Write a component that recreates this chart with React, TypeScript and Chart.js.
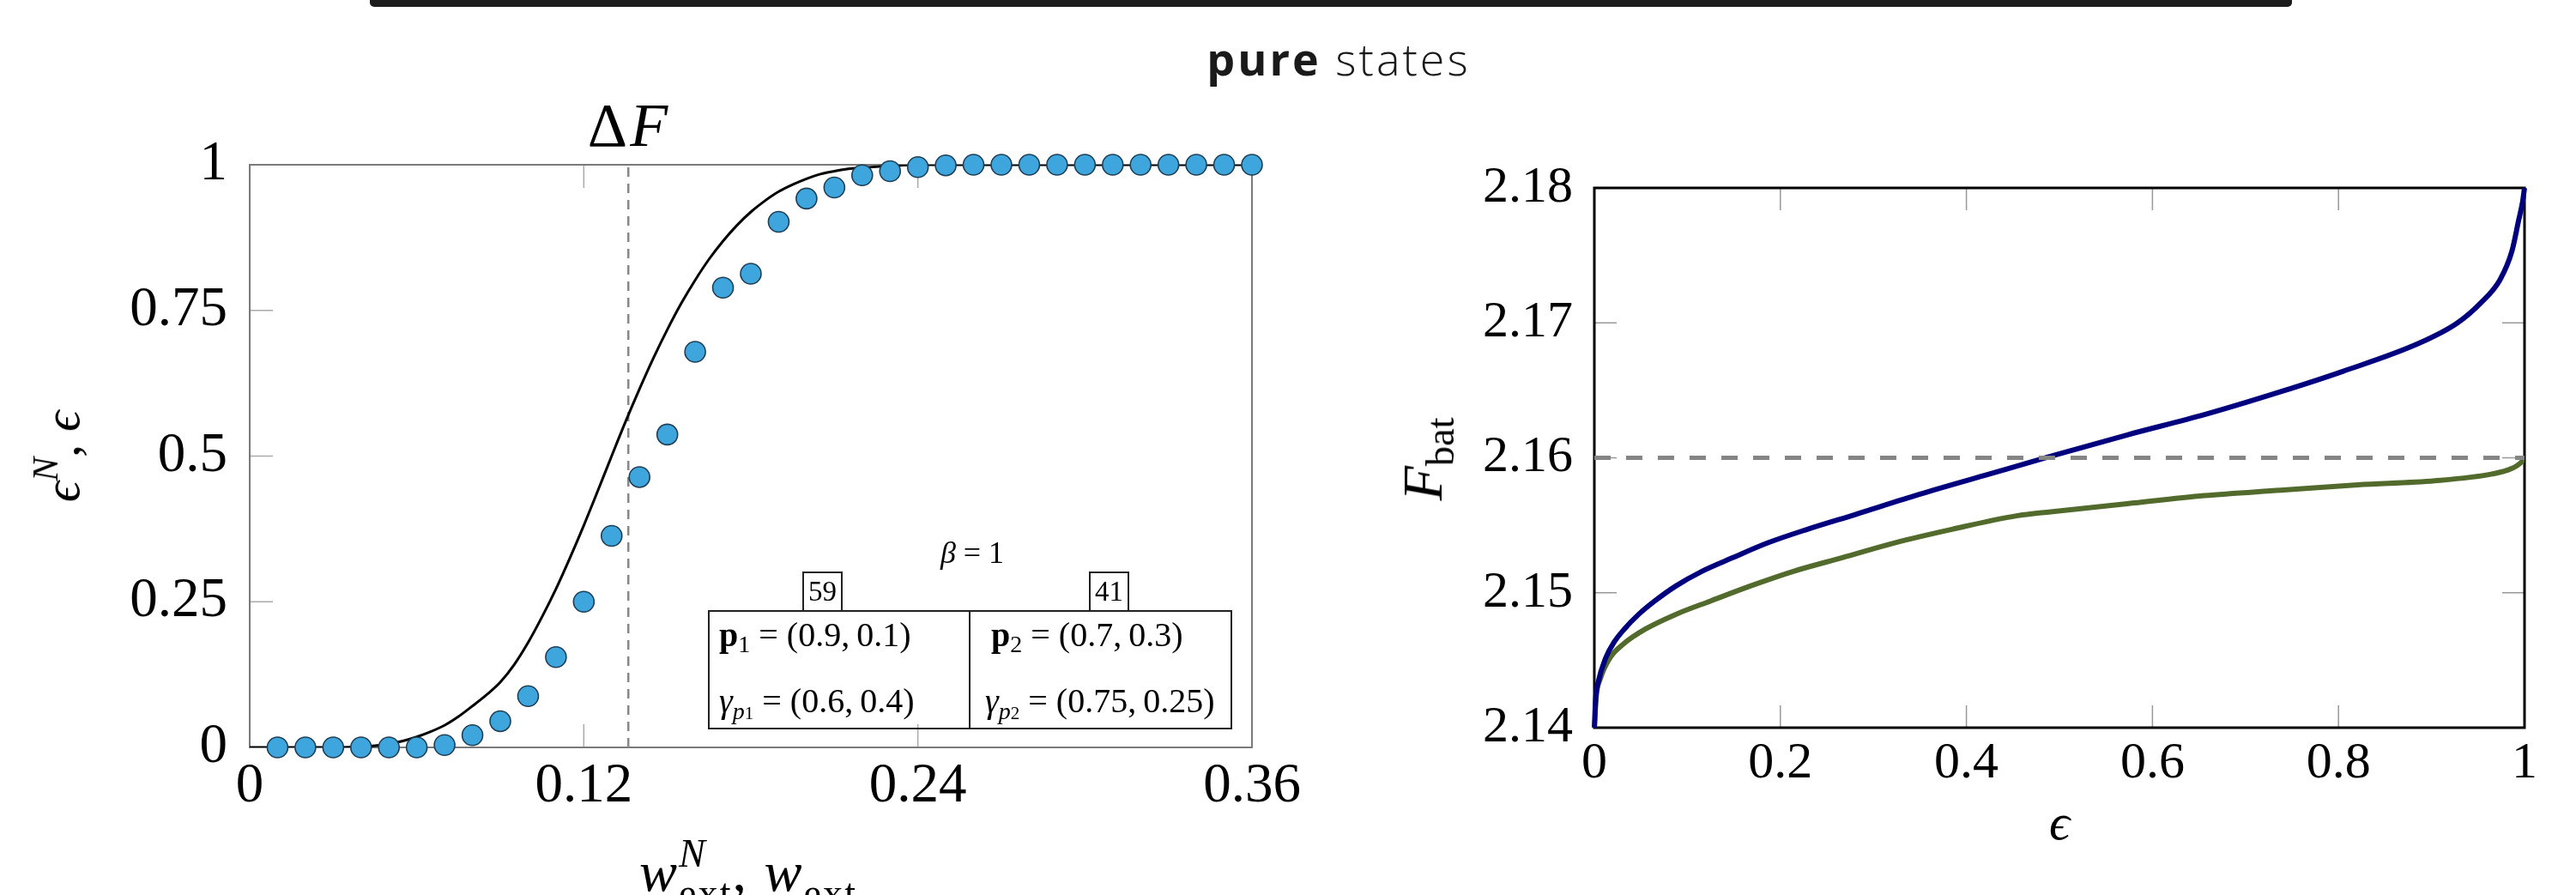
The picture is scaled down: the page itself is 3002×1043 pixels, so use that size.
import React, { useEffect, useRef } from 'react';
import { Chart, registerables } from 'chart.js';

Chart.register(...registerables);

const SERIF = "'Liberation Serif', 'DejaVu Serif', 'Times New Roman', serif";
const SANS = "'Open Sans', 'Noto Sans', 'DejaVu Sans', sans-serif";

// ---------- Left panel data ----------
const dotX = [0.01, 0.02, 0.03, 0.04, 0.05, 0.06, 0.07, 0.08, 0.09, 0.10, 0.11, 0.12, 0.13, 0.14, 0.15, 0.16, 0.17, 0.18,
  0.19, 0.20, 0.21, 0.22, 0.23, 0.24, 0.25, 0.26, 0.27, 0.28, 0.29, 0.30, 0.31, 0.32, 0.33, 0.34, 0.35, 0.36];
const dotY = [0, 0, 0, 0, 0, 0, 0.004, 0.021, 0.045, 0.088, 0.155, 0.250, 0.363, 0.464, 0.537, 0.679, 0.789, 0.813,
  0.902, 0.942, 0.961, 0.982, 0.989, 0.996, 0.999, 1, 1, 1, 1, 1, 1, 1, 1, 1, 1, 1];

const curveX = [0, 0.02, 0.03, 0.04, 0.045, 0.05, 0.055, 0.06, 0.065, 0.07, 0.075, 0.08, 0.085, 0.09, 0.095, 0.10, 0.105,
  0.11, 0.115, 0.12, 0.125, 0.13, 0.135, 0.14, 0.145, 0.15, 0.155, 0.16, 0.165, 0.17, 0.175, 0.18, 0.185, 0.19, 0.195,
  0.20, 0.205, 0.21, 0.215, 0.22, 0.23, 0.24, 0.30, 0.36];
const curveY = [0, 0, 0, 0.001, 0.003, 0.006, 0.011, 0.018, 0.027, 0.038, 0.053, 0.071, 0.090, 0.112, 0.142, 0.180, 0.224,
  0.272, 0.325, 0.381, 0.440, 0.500, 0.559, 0.615, 0.668, 0.717, 0.762, 0.802, 0.838, 0.869, 0.896, 0.919, 0.938, 0.954, 0.966,
  0.976, 0.984, 0.989, 0.993, 0.995, 0.998, 1, 1, 1];

const deltaFX = [0.136, 0.136];
const deltaFY = [0, 1];

const leftXTicks = [0, 0.12, 0.24, 0.36];
const leftXTickLabels = ['0', '0.12', '0.24', '0.36'];
const leftYTicks = [0, 0.25, 0.5, 0.75, 1];
const leftYTickLabels = ['0', '0.25', '0.5', '0.75', '1'];

// ---------- Right panel data ----------
const blueX = [0, 0.0015, 0.0039, 0.0124, 0.0209, 0.0322, 0.0477, 0.0652, 0.0877, 0.116, 0.149, 0.1866, 0.229, 0.2806, 0.35,
  0.42, 0.49, 0.573, 0.656, 0.738, 0.8045, 0.887, 0.928, 0.9533, 0.9737, 0.9864, 0.9937, 0.998, 1.0];
const blueY = [2.1400, 2.1422, 2.1433, 2.1452, 2.1463, 2.1473, 2.1484, 2.1494, 2.1505, 2.1516, 2.1526, 2.1537, 2.1547, 2.1558,
  2.1573, 2.1587, 2.1601, 2.1617, 2.1632, 2.1649, 2.1664, 2.1685, 2.1700, 2.1715, 2.1732, 2.1753, 2.1776, 2.1790, 2.1800];

const greenX = [0, 0.002, 0.0063, 0.0171, 0.0312, 0.0547, 0.0877, 0.1254, 0.1678, 0.2147, 0.2666, 0.323, 0.3844, 0.454,
  0.4905, 0.573, 0.656, 0.738, 0.821, 0.9035, 0.965, 0.986, 0.997, 1.0];
const greenY = [2.1400, 2.1423, 2.1436, 2.1452, 2.1462, 2.1473, 2.1484, 2.1494, 2.1505, 2.1516, 2.1526, 2.1537, 2.1547, 2.1557,
  2.1560, 2.1566, 2.1572, 2.1576, 2.1580, 2.1583, 2.1588, 2.1592, 2.1597, 2.1600];

const refX = [0, 1];
const refY = [2.16, 2.16];

const rightXTicks = [0, 0.2, 0.4, 0.6, 0.8, 1];
const rightXTickLabels = ['0', '0.2', '0.4', '0.6', '0.8', '1'];
const rightYTicks = [2.14, 2.15, 2.16, 2.17, 2.18];
const rightYTickLabels = ['2.14', '2.15', '2.16', '2.17', '2.18'];

const pts = (xs: number[], ys: number[]) => xs.map((x, i) => ({ x, y: ys[i] }));

type FrameCfg = {
  frameColor: string; frameWidth: number; tickColor: string; tickWidth: number; tickLen: number;
  xInner: number[]; yInner: number[]; top: boolean; bottom: boolean; left: boolean; right: boolean;
};

function makeFramePlugin(cfg: FrameCfg) {
  return {
    id: 'frameTicks',
    beforeDatasetsDraw(chart: any) {
      const { ctx, chartArea: a, scales } = chart;
      const xs = scales.x, ys = scales.y;
      ctx.save();
      ctx.strokeStyle = cfg.tickColor;
      ctx.lineWidth = cfg.tickWidth;
      ctx.beginPath();
      for (const v of cfg.xInner) {
        const px = xs.getPixelForValue(v);
        if (cfg.top) { ctx.moveTo(px, a.top); ctx.lineTo(px, a.top + cfg.tickLen); }
        if (cfg.bottom) { ctx.moveTo(px, a.bottom); ctx.lineTo(px, a.bottom - cfg.tickLen); }
      }
      for (const v of cfg.yInner) {
        const py = ys.getPixelForValue(v);
        if (cfg.left) { ctx.moveTo(a.left, py); ctx.lineTo(a.left + cfg.tickLen, py); }
        if (cfg.right) { ctx.moveTo(a.right, py); ctx.lineTo(a.right - cfg.tickLen, py); }
      }
      ctx.stroke();
      ctx.strokeStyle = cfg.frameColor;
      ctx.lineWidth = cfg.frameWidth;
      ctx.strokeRect(a.left, a.top, a.right - a.left, a.bottom - a.top);
      ctx.restore();
    },
  };
}

function axis(min: number, max: number, ticks: number[], labels: string[], size: number, padding: number,
  fit: (s: any) => void) {
  return {
    type: 'linear',
    min, max,
    afterBuildTicks: (s: any) => { s.ticks = ticks.map((v) => ({ value: v })); },
    afterFit: fit,
    ticks: {
      callback: (_v: any, i: number) => labels[i],
      font: { family: SERIF, size, lineHeight: 1 },
      color: '#000',
      padding,
      maxRotation: 0,
      minRotation: 0,
      autoSkip: false,
    },
    grid: { display: false, drawTicks: false },
    border: { display: false },
  };
}

function leftConfig(): any {
  return {
    type: 'scatter',
    data: {
      datasets: [
        {
          data: pts(dotX, dotY), showLine: false, pointRadius: 12, pointBorderWidth: 1.6,
          pointBackgroundColor: '#3fa6dd', pointBorderColor: '#1e3f56', clip: false,
        },
        {
          data: pts(curveX, curveY), showLine: true, pointRadius: 0, borderColor: '#000', borderWidth: 3,
          cubicInterpolationMode: 'monotone',
        },
        {
          data: pts(deltaFX, deltaFY), showLine: true, pointRadius: 0, borderColor: '#888', borderWidth: 2.5,
          borderDash: [11, 8],
        },
      ],
    },
    options: {
      responsive: false, animation: false, events: [],
      layout: { padding: { left: 0, top: 192, right: 81, bottom: 0 } },
      plugins: { legend: { display: false }, tooltip: { enabled: false } },
      scales: {
        x: axis(0, 0.36, leftXTicks, leftXTickLabels, 65, 13, (s: any) => { s.height = 172; }),
        y: axis(0, 1, leftYTicks, leftYTickLabels, 65, 26, (s: any) => { s.width = 291; }),
      },
    },
    plugins: [makeFramePlugin({
      frameColor: '#7a7a7a', frameWidth: 2, tickColor: '#aaa', tickWidth: 1.5, tickLen: 27,
      xInner: [0.12, 0.24], yInner: [0.25, 0.5, 0.75], top: true, bottom: true, left: true, right: false,
    })],
  };
}

function rightConfig(): any {
  return {
    type: 'scatter',
    data: {
      datasets: [
        {
          data: pts(refX, refY), showLine: true, pointRadius: 0, borderColor: '#858585', borderWidth: 5,
          borderDash: [19, 18],
        },
        {
          data: pts(blueX, blueY), showLine: true, pointRadius: 0, borderColor: '#00007f', borderWidth: 6,
          cubicInterpolationMode: 'monotone', clip: false,
        },
        {
          data: pts(greenX, greenY), showLine: true, pointRadius: 0, borderColor: '#526b2c', borderWidth: 6,
          cubicInterpolationMode: 'monotone',
        },
      ],
    },
    options: {
      responsive: false, animation: false, events: [],
      layout: { padding: { left: 0, top: 219, right: 60, bottom: 0 } },
      plugins: { legend: { display: false }, tooltip: { enabled: false } },
      scales: {
        x: axis(0, 1, rightXTicks, rightXTickLabels, 60, 12.5, (s: any) => { s.height = 195; }),
        y: axis(2.14, 2.18, rightYTicks, rightYTickLabels, 60, 25, (s: any) => { s.width = 318; }),
      },
    },
    plugins: [makeFramePlugin({
      frameColor: '#000', frameWidth: 3, tickColor: '#999', tickWidth: 1.5, tickLen: 26,
      xInner: [0.2, 0.4, 0.6, 0.8], yInner: [2.15, 2.16, 2.17], top: true, bottom: true, left: true, right: true,
    })],
  };
}

const Sup = ({ children, italic = false }: { children: any; italic?: boolean }) => (
  <span style={{ fontSize: '0.7em', lineHeight: 0, verticalAlign: '0.6em', fontStyle: italic ? 'italic' : 'normal' }}>{children}</span>
);
const SupZero = ({ children, italic = false }: { children: any; italic?: boolean }) => (
  <span style={{
    display: 'inline-block', width: 0, whiteSpace: 'nowrap', fontSize: '0.7em', lineHeight: 0,
    verticalAlign: '0.6em', fontStyle: italic ? 'italic' : 'normal',
  }}>{children}</span>
);
const Sub = ({ children, italic = false, shift = '-0.35em' }: { children: any; italic?: boolean; shift?: string }) => (
  <span style={{ fontSize: '0.7em', lineHeight: 0, verticalAlign: shift, fontStyle: italic ? 'italic' : 'normal' }}>{children}</span>
);
const I = ({ children }: { children: any }) => <span style={{ fontStyle: 'italic' }}>{children}</span>;

const abs = (left: number, top: number, size: number, extra: any = {}): any => ({
  position: 'absolute', left, top, fontSize: size, lineHeight: `${size}px`, fontFamily: SERIF,
  whiteSpace: 'nowrap', color: '#000', ...extra,
});

export default function App() {
  const leftRef = useRef<HTMLCanvasElement>(null);
  const rightRef = useRef<HTMLCanvasElement>(null);

  useEffect(() => {
    const lc = new Chart(leftRef.current as HTMLCanvasElement, leftConfig());
    const rc = new Chart(rightRef.current as HTMLCanvasElement, rightConfig());
    return () => { lc.destroy(); rc.destroy(); };
  }, []);

  return (
    <div style={{ position: 'absolute', left: 0, top: 0, width: 3002, height: 1043, overflow: 'hidden', background: '#fff' }}>
      <canvas ref={leftRef} width={1540} height={1043} style={{ position: 'absolute', left: 0, top: 0, width: 1540, height: 1043 }} />
      <canvas ref={rightRef} width={1462} height={1043} style={{ position: 'absolute', left: 1540, top: 0, width: 1462, height: 1043 }} />

      {/* top dark bar */}
      <div style={{ position: 'absolute', left: 431, top: 0, width: 2240, height: 8, background: '#1c1c1c', borderRadius: '0 0 5px 5px' }} />

      {/* title */}
      <div style={{
        position: 'absolute', left: 1560, top: 42, transform: 'translateX(-50%)', fontFamily: SANS, fontSize: 52,
        lineHeight: '52px', whiteSpace: 'nowrap', color: '#1a1a1a', letterSpacing: 3,
      }}>
        <span style={{ fontWeight: 700 }}>pure</span> <span style={{ fontWeight: 300 }}>states</span>
      </div>

      {/* Delta F */}
      <div style={abs(733, 110, 72, { transform: 'translateX(-50%)', letterSpacing: 3 })}>Δ<I>F</I></div>

      {/* left y label */}
      <div style={abs(72, 532, 60, { transform: 'translate(-50%, -50%) rotate(-90deg)' })}>
        <I>ϵ</I><Sup italic>N</Sup><span>,&nbsp;</span><I>ϵ</I>
      </div>

      {/* left x label */}
      <div style={abs(872, 983, 66, { transform: 'translateX(-50%)', letterSpacing: 2 })}>
        <I>w</I><SupZero italic>N</SupZero><Sub shift="-0.4em">ext</Sub><span>,&nbsp;</span><I>w</I><Sub shift="-0.4em">ext</Sub>
      </div>

      {/* right y label */}
      <div style={abs(1658, 535, 66, { transform: 'translate(-50%, -50%) rotate(-90deg)' })}>
        <I>F</I><Sub shift="-0.3em">bat</Sub>
      </div>

      {/* right x label */}
      <div style={abs(2400, 928, 60, { transform: 'translateX(-50%)' })}><I>ϵ</I></div>

      {/* inset legend */}
      <div style={abs(1133, 626, 36, { transform: 'translateX(-50%)' })}><I>β</I> = 1</div>
      <div style={{
        position: 'absolute', left: 935, top: 666, width: 47, height: 47, boxSizing: 'border-box', border: '2px solid #222',
        fontFamily: SERIF, fontSize: 33, lineHeight: '43px', textAlign: 'center', color: '#000',
      }}>59</div>
      <div style={{
        position: 'absolute', left: 1269, top: 666, width: 47, height: 47, boxSizing: 'border-box', border: '2px solid #222',
        fontFamily: SERIF, fontSize: 33, lineHeight: '43px', textAlign: 'center', color: '#000',
      }}>41</div>
      <div style={{
        position: 'absolute', left: 825, top: 711, width: 611, height: 139, boxSizing: 'border-box', border: '2.5px solid #222',
      }} />
      <div style={{ position: 'absolute', left: 1129, top: 711, width: 2, height: 139, background: '#222' }} />
      <div style={abs(838, 720, 40)}>
        <span style={{ fontWeight: 700 }}>p</span><Sub shift="-0.25em">1</Sub> = (0.9,&thinsp;0.1)
      </div>
      <div style={abs(838, 797, 40)}>
        <I>γ</I><Sub italic shift="-0.3em">p<span style={{ fontSize: '0.75em', fontStyle: 'normal' }}>1</span></Sub> = (0.6,&thinsp;0.4)
      </div>
      <div style={abs(1155, 720, 40)}>
        <span style={{ fontWeight: 700 }}>p</span><Sub shift="-0.25em">2</Sub> = (0.7,&thinsp;0.3)
      </div>
      <div style={abs(1148, 797, 40)}>
        <I>γ</I><Sub italic shift="-0.3em">p<span style={{ fontSize: '0.75em', fontStyle: 'normal' }}>2</span></Sub> = (0.75,&thinsp;0.25)
      </div>
    </div>
  );
}
